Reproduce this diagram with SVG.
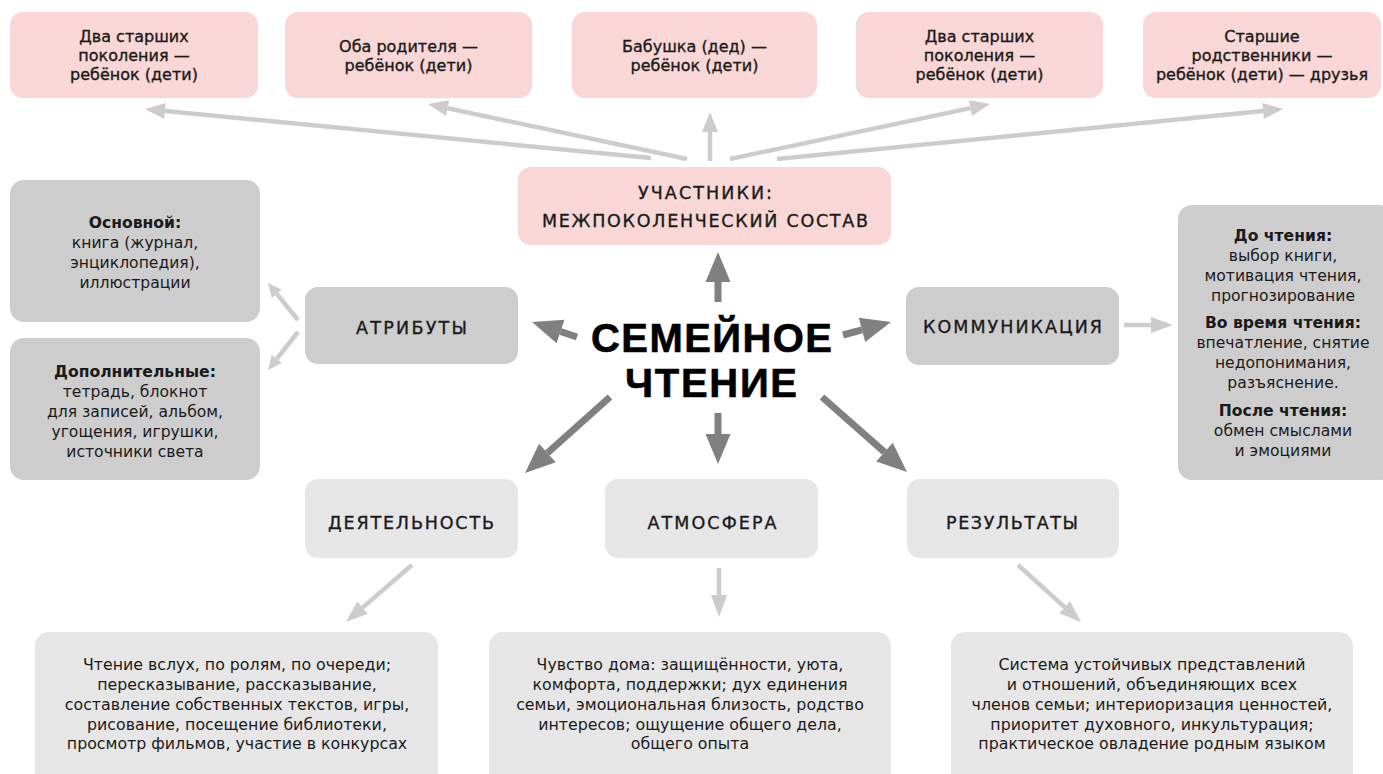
<svg xmlns="http://www.w3.org/2000/svg" width="1383" height="774" viewBox="0 0 1383 774">
<style>
.pink{fill:#f8d7d6}
.mid{fill:#cdcdcd}
.light{fill:#e6e6e6}
.t{font-family:"DejaVu Sans",sans-serif;fill:#1a1a1a;text-anchor:middle}
.top{font-size:16px;stroke:#1a1a1a;stroke-width:0.35}
.hd{font-size:17.5px;stroke:#1a1a1a;stroke-width:0.35}
.body{font-size:15.6px}
.b{font-weight:bold}
.bc{font-size:15.8px}
.main{font-family:"Liberation Sans",Arial,sans-serif;font-size:40px;font-weight:bold;fill:#000;stroke:#000;stroke-width:0.6}
.la{fill:none;stroke:#cccccc;stroke-width:4.5}
.da{fill:none;stroke:#808080;stroke-width:7}
</style>
<defs>
<marker id="hl" markerUnits="userSpaceOnUse" markerWidth="20" markerHeight="16" refX="0" refY="8" orient="auto" overflow="visible"><path d="M0,0 L20,8 L0,16 z" fill="#cccccc"/></marker>
<marker id="hs" markerUnits="userSpaceOnUse" markerWidth="14" markerHeight="13" refX="0" refY="6.5" orient="auto" overflow="visible"><path d="M0,0 L14,6.5 L0,13 z" fill="#cccccc"/></marker>
<marker id="hb" markerUnits="userSpaceOnUse" markerWidth="22" markerHeight="16" refX="0" refY="8" orient="auto" overflow="visible"><path d="M0,0 L22,8 L0,16 z" fill="#cccccc"/></marker>
<marker id="hd" markerUnits="userSpaceOnUse" markerWidth="30" markerHeight="25" refX="0" refY="12.5" orient="auto" overflow="visible"><path d="M0,0 L30,12.5 L0,25 z" fill="#808080"/></marker>
</defs>

<g id="connectors">
<line class="la" x1="651" y1="158" x2="164.9" y2="110.9" marker-end="url(#hl)"/>
<line class="la" x1="687" y1="159" x2="447.6" y2="108.2" marker-end="url(#hl)"/>
<line class="la" x1="710" y1="161" x2="710" y2="132" marker-end="url(#hl)"/>
<line class="la" x1="730" y1="159" x2="970.4" y2="108.1" marker-end="url(#hl)"/>
<line class="la" x1="777" y1="159" x2="1263.1" y2="111" marker-end="url(#hl)"/>
<line class="da" x1="718" y1="302" x2="718" y2="282" marker-end="url(#hd)"/>
<line class="da" x1="577" y1="337" x2="560.5" y2="331.5" marker-end="url(#hd)"/>
<line class="da" x1="843" y1="335" x2="862" y2="329.9" marker-end="url(#hd)"/>
<line class="da" x1="610" y1="397" x2="547.4" y2="453" marker-end="url(#hd)"/>
<line class="da" x1="718" y1="413" x2="718" y2="434" marker-end="url(#hd)"/>
<line class="da" x1="822" y1="397" x2="884.5" y2="452.2" marker-end="url(#hd)"/>
<line class="la" x1="298" y1="320" x2="276.8" y2="293.9" marker-end="url(#hs)"/>
<line class="la" x1="298" y1="332" x2="276.7" y2="359" marker-end="url(#hs)"/>
<line class="la" x1="1124" y1="325" x2="1151" y2="325" marker-end="url(#hb)"/>
<line class="la" x1="412" y1="565" x2="362.6" y2="607.6" marker-end="url(#hb)"/>
<line class="la" x1="719" y1="568" x2="719" y2="595" marker-end="url(#hb)"/>
<line class="la" x1="1018" y1="565" x2="1064.7" y2="607.2" marker-end="url(#hb)"/>
</g>

<g id="top1"><rect class="pink" x="10" y="12" width="248" height="86" rx="13"/>
<text class="t top"><tspan x="134" y="42">Два старших</tspan><tspan x="134" y="61">поколения —</tspan><tspan x="134" y="80">ребёнок (дети)</tspan></text></g>
<g id="top2"><rect class="pink" x="285" y="12" width="247" height="86" rx="13"/>
<text class="t top"><tspan x="408.5" y="52">Оба родителя —</tspan><tspan x="408.5" y="71">ребёнок (дети)</tspan></text></g>
<g id="top3"><rect class="pink" x="572" y="12" width="245" height="86" rx="13"/>
<text class="t top"><tspan x="694.5" y="52">Бабушка (дед) —</tspan><tspan x="694.5" y="71">ребёнок (дети)</tspan></text></g>
<g id="top4"><rect class="pink" x="856" y="12" width="247" height="86" rx="13"/>
<text class="t top"><tspan x="979.5" y="42">Два старших</tspan><tspan x="979.5" y="61">поколения —</tspan><tspan x="979.5" y="80">ребёнок (дети)</tspan></text></g>
<g id="top5"><rect class="pink" x="1143" y="12" width="238" height="86" rx="13"/>
<text class="t top"><tspan x="1262" y="42">Старшие</tspan><tspan x="1262" y="61">родственники —</tspan><tspan x="1262" y="80">ребёнок (дети) — друзья</tspan></text></g>

<g id="participants"><rect class="pink" x="518" y="167" width="373" height="78" rx="13"/>
<text class="t hd" x="705" y="199" textLength="134" lengthAdjust="spacing">УЧАСТНИКИ:</text>
<text class="t hd" x="705" y="227" textLength="326" lengthAdjust="spacing">МЕЖПОКОЛЕНЧЕСКИЙ СОСТАВ</text></g>

<g id="center">
<text class="t main" x="711.5" y="352" textLength="241" lengthAdjust="spacing">СЕМЕЙНОЕ</text>
<text class="t main" x="711" y="397" textLength="172" lengthAdjust="spacing">ЧТЕНИЕ</text></g>

<g id="attr-main"><rect class="mid" x="10" y="180" width="250" height="142" rx="14"/>
<text class="t body"><tspan class="b" x="135" y="228">Основной:</tspan><tspan x="135" y="248">книга (журнал,</tspan><tspan x="135" y="268">энциклопедия),</tspan><tspan x="135" y="288">иллюстрации</tspan></text></g>
<g id="attr-extra"><rect class="mid" x="10" y="338" width="250" height="142" rx="14"/>
<text class="t body"><tspan class="b" x="135" y="377">Дополнительные:</tspan><tspan x="135" y="397">тетрадь, блокнот</tspan><tspan x="135" y="417">для записей, альбом,</tspan><tspan x="135" y="437">угощения, игрушки,</tspan><tspan x="135" y="457">источники света</tspan></text></g>

<g id="attributes"><rect class="mid" x="305" y="287" width="213" height="77" rx="13"/>
<text class="t hd" x="411.5" y="334" textLength="111" lengthAdjust="spacing">АТРИБУТЫ</text></g>
<g id="communication"><rect class="mid" x="906" y="287" width="213" height="78" rx="13"/>
<text class="t hd" x="1012.5" y="333" textLength="179" lengthAdjust="spacing">КОММУНИКАЦИЯ</text></g>

<g id="comm-detail"><rect class="mid" x="1178" y="205" width="215" height="275" rx="14"/>
<text class="t body"><tspan class="b" x="1283" y="241">До чтения:</tspan><tspan x="1283" y="261">выбор книги,</tspan><tspan x="1283" y="281">мотивация чтения,</tspan><tspan x="1283" y="301">прогнозирование</tspan><tspan class="b" x="1283" y="328">Во время чтения:</tspan><tspan x="1283" y="348">впечатление, снятие</tspan><tspan x="1283" y="368">недопонимания,</tspan><tspan x="1283" y="388">разъяснение.</tspan><tspan class="b" x="1283" y="416">После чтения:</tspan><tspan x="1283" y="436">обмен смыслами</tspan><tspan x="1283" y="456">и эмоциями</tspan></text></g>

<g id="activity"><rect class="light" x="305" y="479" width="213" height="79" rx="13"/>
<text class="t hd" x="411" y="529" textLength="166" lengthAdjust="spacing">ДЕЯТЕЛЬНОСТЬ</text></g>
<g id="atmosphere"><rect class="light" x="605" y="479" width="213" height="79" rx="13"/>
<text class="t hd" x="712" y="529" textLength="129" lengthAdjust="spacing">АТМОСФЕРА</text></g>
<g id="results"><rect class="light" x="907" y="479" width="212" height="79" rx="13"/>
<text class="t hd" x="1012" y="529" textLength="132" lengthAdjust="spacing">РЕЗУЛЬТАТЫ</text></g>

<g id="activity-detail"><rect class="light" x="35" y="632" width="403" height="160" rx="14"/>
<text class="t bc"><tspan x="237" y="670">Чтение вслух, по ролям, по очереди;</tspan><tspan x="237" y="690">пересказывание, рассказывание,</tspan><tspan x="237" y="710">составление собственных текстов, игры,</tspan><tspan x="237" y="730">рисование, посещение библиотеки,</tspan><tspan x="237" y="749">просмотр фильмов, участие в конкурсах</tspan></text></g>
<g id="atmosphere-detail"><rect class="light" x="489" y="632" width="402" height="160" rx="14"/>
<text class="t bc"><tspan x="690" y="670">Чувство дома: защищённости, уюта,</tspan><tspan x="690" y="690">комфорта, поддержки; дух единения</tspan><tspan x="690" y="710">семьи, эмоциональная близость, родство</tspan><tspan x="690" y="730">интересов; ощущение общего дела,</tspan><tspan x="690" y="749">общего опыта</tspan></text></g>
<g id="results-detail"><rect class="light" x="951" y="632" width="402" height="160" rx="14"/>
<text class="t bc"><tspan x="1152" y="670">Система устойчивых представлений</tspan><tspan x="1152" y="690">и отношений, объединяющих всех</tspan><tspan x="1152" y="710">членов семьи; интериоризация ценностей,</tspan><tspan x="1152" y="730">приоритет духовного, инкультурация;</tspan><tspan x="1152" y="749">практическое овладение родным языком</tspan></text></g>
</svg>
